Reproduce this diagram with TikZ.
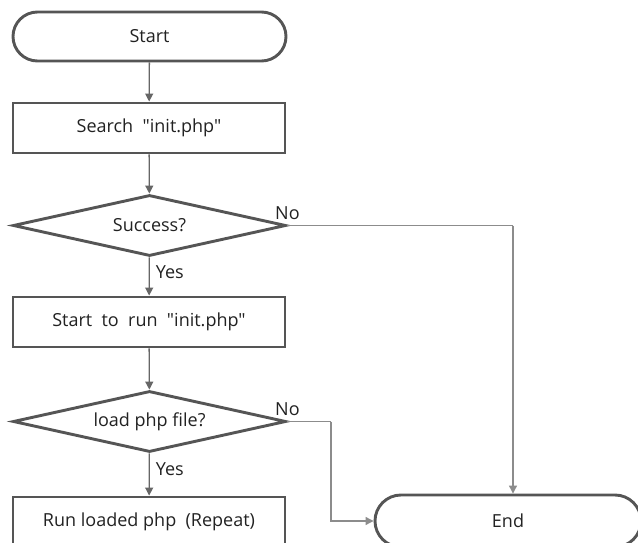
\documentclass[tikz,border=0pt]{standalone}
\usepackage{fontspec}
\newfontfamily\diagfont{Open Sans}
\usetikzlibrary{shapes.geometric,shapes.misc,arrows.meta}
\definecolor{shapegray}{HTML}{555555}
\definecolor{linegray}{HTML}{666666}
\definecolor{lightline}{HTML}{8C8C8C}
\definecolor{txt}{HTML}{222222}
\begin{document}
\begin{tikzpicture}[x=1pt,y=-1pt,
  every node/.style={font=\diagfont\fontsize{18}{21}\selectfont, text=txt},
  term/.style={draw=shapegray, line width=2.9pt, rounded rectangle, minimum width=273pt, minimum height=49pt, inner sep=0pt},
  proc/.style={draw=shapegray, line width=2.9pt, rectangle, minimum width=272pt, minimum height=50pt, inner sep=0pt},
  dec/.style={draw=shapegray, line width=2.9pt, diamond, aspect=4.5, minimum width=273pt, minimum height=61pt, inner sep=0pt},
  arr/.style={draw=linegray, line width=1.3pt, -{Triangle[length=8pt,width=8pt]}},
  noline/.style={draw=lightline, line width=1.1pt},
  noarr/.style={noline, -{Triangle[length=8pt,width=8pt]}},
  lbl/.style={inner sep=0pt}
]
\useasboundingbox (0,0) rectangle (638,543);
\clip (0,0) rectangle (638,543);
\fill[white] (0,0) rectangle (638,543);

\node[term] (start) at (149.5,36.5) {Start};
\node[proc] (search) at (149,128) {Search~ "init.php"};
\node[dec] (succ) at (149.5,225.5) {Success?};
\node[proc] (run) at (149,322) {Start~ to~ run~ "init.php"};
\node[dec] (load) at (149.5,421.5) {load php file?};
\node[proc] (rep) at (149,522) {Run loaded php~ (Repeat)};
\node[term, minimum width=266pt, minimum height=52pt] (end) at (508,521) {End};

\coordinate (c1) at (513,225.5);
\coordinate (c2) at (331,421.5);

\draw[arr] (start) -- (search);
\draw[arr] (search) -- (succ);
\draw[arr] (succ) -- node[lbl, anchor=west, pos=0.38, xshift=6pt] {Yes} (run);
\draw[arr] (run) -- (load);
\draw[arr] (load) -- node[lbl, anchor=west, pos=0.38, xshift=6pt] {Yes} (rep);

\draw[noline] (succ.east) -- (c1);
\draw[noarr] (c1) -- (c1 |- end.north);
\node[lbl, anchor=south west] (no1) at (275,220) {No};
\draw[noline] (load.east) -- (c2);
\draw[noarr] (c2) |- (end.west);
\node[lbl, anchor=south west] (no2) at (275,416) {No};
\end{tikzpicture}
\end{document}
